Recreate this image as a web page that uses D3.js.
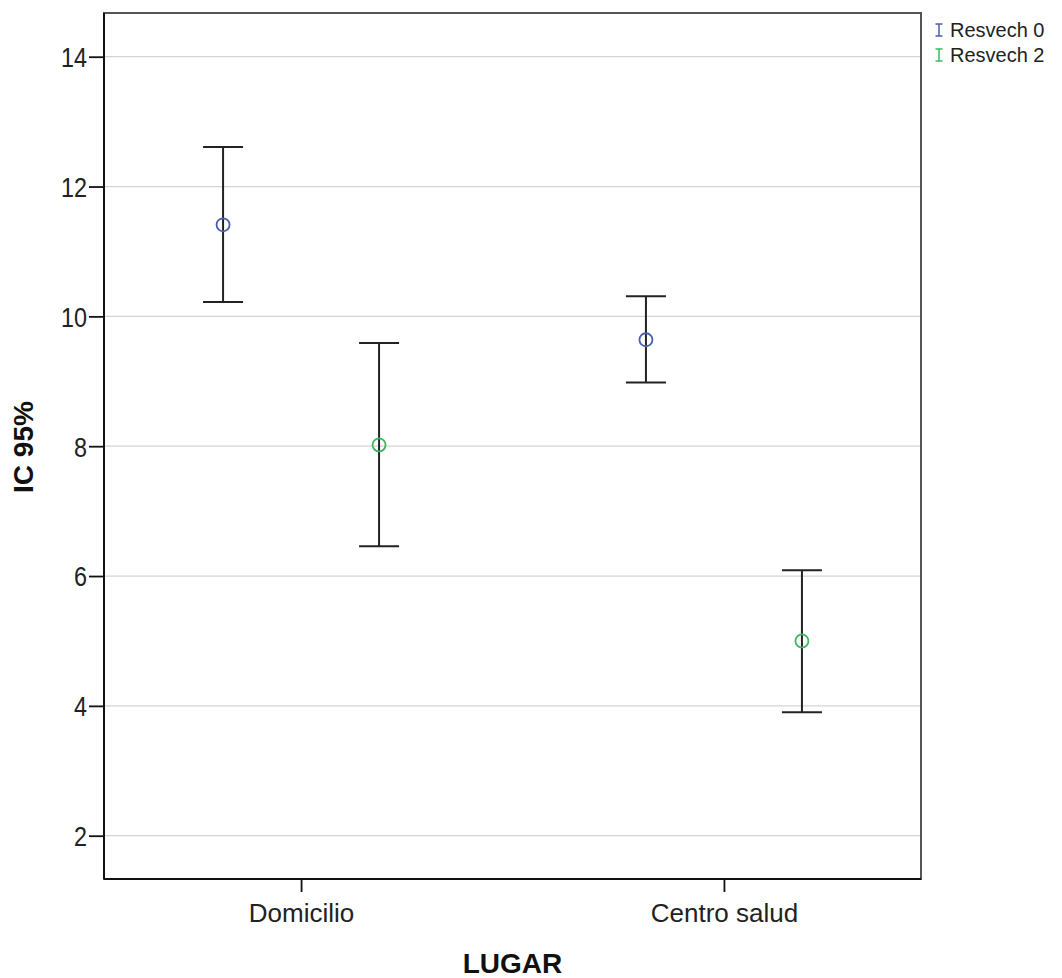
<!DOCTYPE html>
<html>
<head>
<meta charset="utf-8">
<script src="https://cdn.jsdelivr.net/npm/d3@7/dist/d3.min.js"></script>
<style>
  html, body { margin: 0; padding: 0; background: #fff; }
  svg { display: block; font-family: "Liberation Sans", Arial, sans-serif; }
</style>
</head>
<body>
<svg id="chart" width="1062" height="978"></svg>
<script>
// Categories and series
const categories = ["Domicilio", "Centro salud"];
const series = ["Resvech 0", "Resvech 2"];
const seriesColors = ["#4a5fb0", "#3db75c"];

// Means and 95% confidence limits, per series, in category order
const means = {
  "Resvech 0": [11.41, 9.64],
  "Resvech 2": [8.02, 5.00]
};
const lower = {
  "Resvech 0": [10.22, 8.98],
  "Resvech 2": [6.46, 3.90]
};
const upper = {
  "Resvech 0": [12.61, 10.31],
  "Resvech 2": [9.59, 6.09]
};
const yTicks = [2, 4, 6, 8, 10, 12, 14];

const svg = d3.select("#chart");

// Plot frame
const frame = { left: 104, right: 921, top: 13, bottom: 879 };

const y = d3.scaleLinear().domain([2, 14]).range([835.7, 56.7]);
const x = d3.scalePoint().domain(categories)
  .range([frame.left, frame.right]).padding(0.466);
const offset = d3.scalePoint().domain(series).range([-78, 78]);

// Gridlines
svg.append("g").selectAll("line").data(yTicks).join("line")
  .attr("x1", frame.left).attr("x2", frame.right)
  .attr("y1", d => y(d)).attr("y2", d => y(d))
  .attr("stroke", "#d4d4d4").attr("stroke-width", 1.3);

// Frame outline
svg.append("rect")
  .attr("x", frame.left).attr("y", frame.top)
  .attr("width", frame.right - frame.left)
  .attr("height", frame.bottom - frame.top)
  .attr("fill", "none").attr("stroke", "#555").attr("stroke-width", 2);

// Y axis
const yAxis = d3.axisLeft(y).tickValues(yTicks).tickSize(15).tickSizeOuter(0).tickPadding(2);
const gy = svg.append("g").attr("transform", `translate(${frame.left},0)`).call(yAxis);
gy.select(".domain").remove();
gy.append("line").attr("x1", 0).attr("x2", 0)
  .attr("y1", frame.top).attr("y2", frame.bottom)
  .attr("stroke", "#111").attr("stroke-width", 2);
gy.selectAll(".tick line").attr("stroke", "#111").attr("stroke-width", 1.8);
gy.selectAll(".tick text")
  .attr("fill", "#222")
  .attr("dy", "0.35em")
  .attr("textLength", d => String(d).length * 13)
  .attr("lengthAdjust", "spacingAndGlyphs")
  .style("font-size", "28px")
  .style("font-family", "'Liberation Sans', Arial, sans-serif");

// X axis
const xAxis = d3.axisBottom(x).tickSize(13).tickSizeOuter(0).tickPadding(12);
const gx = svg.append("g").attr("transform", `translate(0,${frame.bottom})`).call(xAxis);
gx.select(".domain").remove();
gx.append("line").attr("x1", frame.left).attr("x2", frame.right)
  .attr("y1", 0).attr("y2", 0)
  .attr("stroke", "#111").attr("stroke-width", 2);
gx.selectAll(".tick line").attr("stroke", "#111").attr("stroke-width", 1.8);
gx.selectAll(".tick text")
  .attr("fill", "#222")
  .style("font-size", "26px")
  .style("font-family", "'Liberation Sans', Arial, sans-serif");

// Axis titles
svg.append("text")
  .attr("x", (frame.left + frame.right) / 2).attr("y", 973)
  .attr("text-anchor", "middle")
  .attr("font-weight", "bold").attr("font-size", 28).attr("fill", "#111")
  .text("LUGAR");

svg.append("text")
  .attr("transform", `translate(33,447) rotate(-90)`)
  .attr("text-anchor", "middle")
  .attr("font-weight", "bold").attr("font-size", 28).attr("fill", "#111")
  .text("IC 95%");

// Error bars with mean markers
const capHalf = 20;
series.forEach((s, si) => {
  const g = svg.append("g");
  const rows = categories.map((c, ci) => ({
    cx: x(c) + offset(s),
    mean: means[s][ci], lo: lower[s][ci], hi: upper[s][ci]
  }));
  g.selectAll("line.stem").data(rows).join("line")
    .attr("class", "stem")
    .attr("x1", d => d.cx).attr("x2", d => d.cx)
    .attr("y1", d => y(d.lo)).attr("y2", d => y(d.hi))
    .attr("stroke", "#222").attr("stroke-width", 2);
  g.selectAll("line.capHi").data(rows).join("line")
    .attr("class", "capHi")
    .attr("x1", d => d.cx - capHalf).attr("x2", d => d.cx + capHalf)
    .attr("y1", d => y(d.hi)).attr("y2", d => y(d.hi))
    .attr("stroke", "#222").attr("stroke-width", 2);
  g.selectAll("line.capLo").data(rows).join("line")
    .attr("class", "capLo")
    .attr("x1", d => d.cx - capHalf).attr("x2", d => d.cx + capHalf)
    .attr("y1", d => y(d.lo)).attr("y2", d => y(d.lo))
    .attr("stroke", "#222").attr("stroke-width", 2);
  g.selectAll("circle").data(rows).join("circle")
    .attr("cx", d => d.cx).attr("cy", d => y(d.mean))
    .attr("r", 6.5)
    .attr("fill", "none")
    .attr("stroke", seriesColors[si]).attr("stroke-width", 1.8);
});

// Legend
const legend = svg.append("g").attr("transform", "translate(939,0)");
series.forEach((s, i) => {
  const cy = 30 + i * 25;
  const g = legend.append("g").attr("transform", `translate(0,${cy})`);
  g.append("line").attr("x1", 0).attr("x2", 0).attr("y1", -6).attr("y2", 6)
    .attr("stroke", seriesColors[i]).attr("stroke-width", 1.5);
  g.append("line").attr("x1", -3.5).attr("x2", 3.5).attr("y1", -6).attr("y2", -6)
    .attr("stroke", seriesColors[i]).attr("stroke-width", 1.5);
  g.append("line").attr("x1", -3.5).attr("x2", 3.5).attr("y1", 6).attr("y2", 6)
    .attr("stroke", seriesColors[i]).attr("stroke-width", 1.5);
  g.append("text")
    .attr("x", 11).attr("y", 7)
    .attr("font-size", 20).attr("fill", "#222")
    .text(s);
});
</script>
</body>
</html>
